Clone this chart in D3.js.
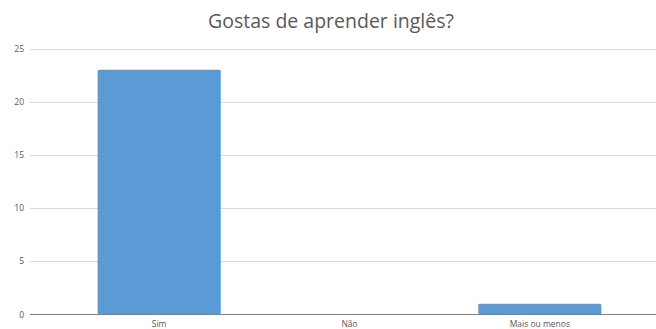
<!DOCTYPE html>
<html>
<head>
<meta charset="utf-8">
<script src="https://cdn.jsdelivr.net/npm/d3@7"></script>
<style>
  html, body { margin: 0; padding: 0; background: #fff; }
  svg { display: block; }
</style>
</head>
<body>
<svg id="chart" width="656" height="329"></svg>
<script>
const title = "Gostas de aprender inglês?";
const categories = ["Sim", "Não", "Mais ou menos"];
const values = [23, 0, 1];
const yTicks = [0, 5, 10, 15, 20, 25];

const svg = d3.select("#chart");
const W = 656, H = 329;
const plot = { left: 30, right: 656, top: 48.5, bottom: 314.5 };

const x = d3.scaleBand()
  .domain(categories)
  .range([64, 635])
  .paddingInner(0.353)
  .paddingOuter(0.1765);

const y = d3.scaleLinear().domain([0, 25]).range([plot.bottom, plot.top]);

// title
svg.append("text")
  .attr("x", 331).attr("y", 28)
  .attr("text-anchor", "middle")
  .attr("font-family", "Open Sans, Lato, sans-serif")
  .attr("font-size", 19.5)
  .attr("fill", "#595959")
  .text(title);

// gridlines
svg.append("g").selectAll("line")
  .data(yTicks.filter(d => d !== 0))
  .join("line")
  .attr("x1", plot.left).attr("x2", plot.right)
  .attr("y1", d => Math.round(y(d)) + 0.5).attr("y2", d => Math.round(y(d)) + 0.5)
  .attr("stroke", "#d9d9d9").attr("stroke-width", 1);

// y tick labels
svg.append("g").selectAll("text")
  .data(yTicks)
  .join("text")
  .attr("x", 24).attr("y", d => y(d) + 3)
  .attr("text-anchor", "end")
  .attr("font-family", "Open Sans, sans-serif")
  .attr("font-size", 8.5)
  .attr("fill", "#595959")
  .text(d => d);

// bars
svg.append("g").selectAll("rect")
  .data(categories.map((c, i) => ({ c, v: values[i] })).filter(d => d.v > 0))
  .join("rect")
  .attr("x", d => x(d.c))
  .attr("width", x.bandwidth())
  .attr("y", d => y(d.v))
  .attr("height", d => y(0) - y(d.v))
  .attr("rx", 1.5)
  .attr("fill", "#5b9bd5");

// x axis line
svg.append("line")
  .attr("x1", plot.left).attr("x2", plot.right)
  .attr("y1", y(0)).attr("y2", y(0))
  .attr("stroke", "#7f7f7f").attr("stroke-width", 1.2);

// category labels
svg.append("g").selectAll("text")
  .data(categories)
  .join("text")
  .attr("x", d => x(d) + x.bandwidth() / 2)
  .attr("y", 327)
  .attr("text-anchor", "middle")
  .attr("font-family", "Open Sans, sans-serif")
  .attr("font-size", 8.5)
  .attr("fill", "#595959")
  .text(d => d);
</script>
</body>
</html>
